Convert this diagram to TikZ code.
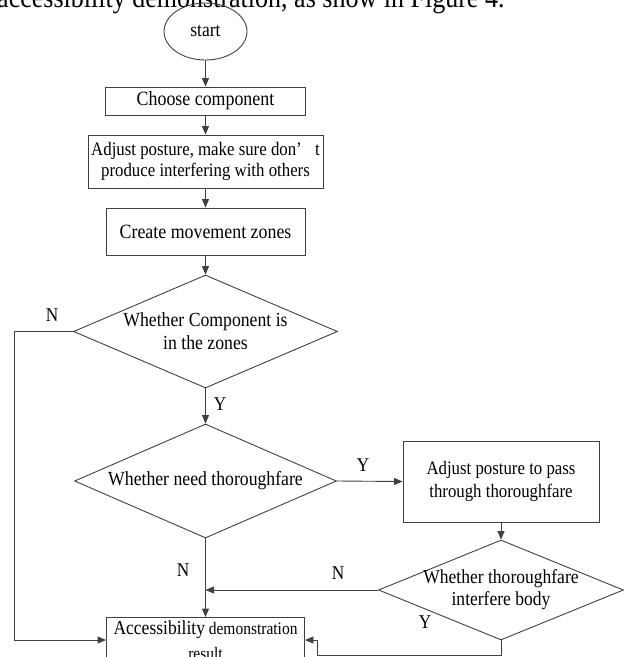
\documentclass[tikz,border=0pt]{standalone}
\usepackage{fontspec}
\setmainfont{Liberation Serif}[FakeStretch=0.885]
\usetikzlibrary{shapes.geometric,arrows.meta}
\definecolor{ln}{HTML}{404040}
\begin{document}
\begin{tikzpicture}[x=1pt,y=-1pt,
  every node/.style={text=black},
  stepbox/.style={draw=ln, line width=0.9pt, rectangle, inner sep=2pt, align=center},
  decision/.style={draw=ln, line width=0.9pt, diamond, inner sep=-3pt, align=center},
  startnode/.style={draw=ln, line width=0.9pt, ellipse, inner sep=0pt},
  lbl/.style={inner sep=0pt, font=\fontsize{19.5}{22}\selectfont},
  arr/.style={draw=ln, line width=0.9pt, -{Triangle[length=8.5pt,width=7pt]}}]
\useasboundingbox (0,0) rectangle (624,657);
\clip (0,0) rectangle (624,657);

\node[anchor=base west, inner sep=0pt, font=\fontsize{29.4}{33}\selectfont] (para) at (-3,7.5) {accessibility demonstration, as show in Figure 4.};

\node[startnode, minimum width=83pt, minimum height=57pt, font=\fontsize{19.8}{22}\selectfont] (start) at (205.5,31.5) {\raisebox{-5pt}{start}};
\node[stepbox, minimum width=200pt, minimum height=28pt, font=\fontsize{20.2}{22}\selectfont] (choose) at (205.5,101) {Choose component};
\node[stepbox, minimum width=235pt, minimum height=53pt, font=\fontsize{19}{21.5}\selectfont] (adjust) at (205.5,161.5) {Adjust posture, make sure don’\hspace{0.7em}t\\produce interfering with others};
\node[stepbox, minimum width=199pt, minimum height=47pt, font=\fontsize{20.2}{22}\selectfont] (zones) at (205.5,231.5) {Create movement zones};
\node[decision, minimum width=264pt, minimum height=113pt, aspect=2.34, font=\fontsize{20}{23}\selectfont] (d1) at (205.5,331.5) {Whether Component is\\in the zones};
\node[decision, minimum width=262pt, minimum height=114pt, aspect=2.3, font=\fontsize{20}{23}\selectfont] (d2) at (205.5,481) {Whether need thoroughfare};
\node[stepbox, minimum width=196pt, minimum height=81pt, font=\fontsize{19}{23}\selectfont] (pass) at (501,481.5) {Adjust posture to pass\\through thoroughfare};
\node[decision, minimum width=245pt, minimum height=100pt, aspect=2.45, font=\fontsize{19.8}{22}\selectfont] (d3) at (501,590) {Whether thoroughfare\\interfere body};
\node[stepbox, minimum width=198pt, minimum height=42pt, inner sep=3pt, font=\fontsize{17.5}{25}\selectfont] (result) at (205.5,640) {{\fontsize{19.8}{25}\selectfont Accessibility} demonstration\\result};

\coordinate (lft) at (14,331.5);
\coordinate (rb) at (317,655);
\coordinate (join) at (d2.south |- d3.west);

\draw[arr] (start) -- (choose);
\draw[arr] (choose) -- (adjust);
\draw[arr] (adjust) -- (zones);
\draw[arr] (zones) -- (d1);
\draw[arr] (d1.south) -- (d2.north);
\draw[arr] (d1.west) -- (lft) |- (result.west);
\draw[arr] (d2.east) -- (pass.west);
\draw[arr] (pass.south) -- (d3.north);
\draw[arr] (d3.west) -- (join);
\draw[arr] (d2.south) -- (result.north);
\draw[arr] (d3.south) |- (rb) |- (result.east);

\node[lbl] (n1) at (52,315) {N};
\node[lbl] (y1) at (220,404) {Y};
\node[lbl] (y2) at (363,465) {Y};
\node[lbl] (n2) at (183,570) {N};
\node[lbl] (n3) at (338,573) {N};
\node[lbl] (y3) at (425,622) {Y};
\end{tikzpicture}
\end{document}
